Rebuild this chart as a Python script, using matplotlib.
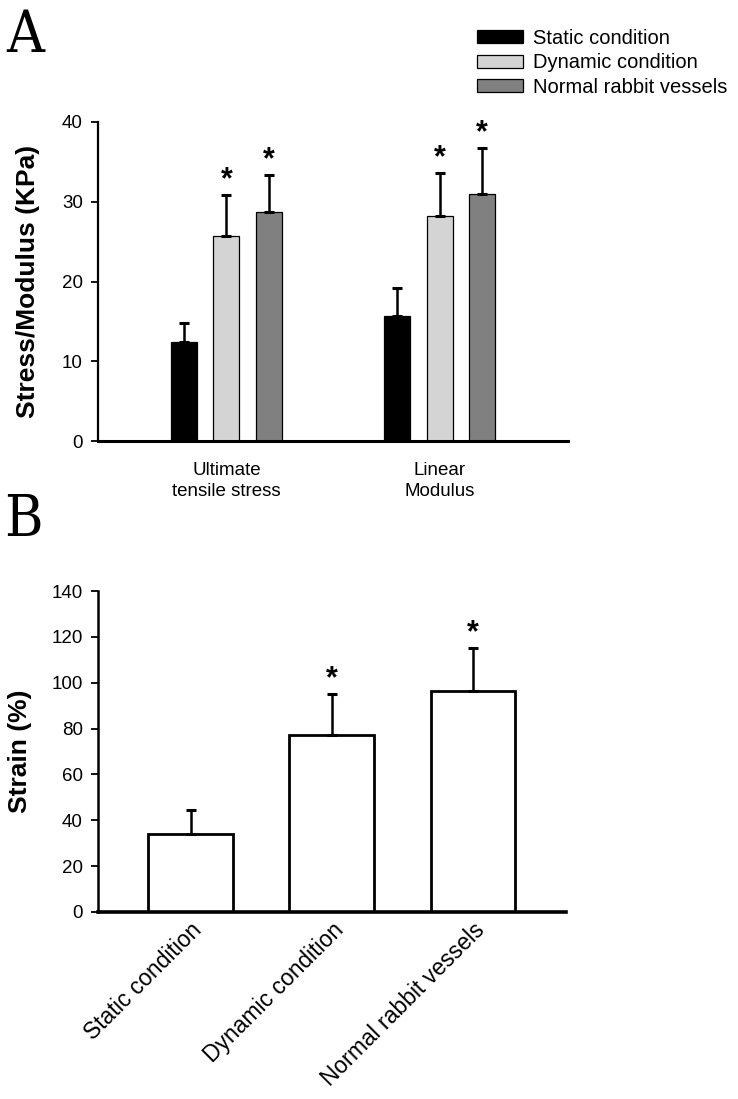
import matplotlib
matplotlib.use("Agg")
import matplotlib.pyplot as plt
import numpy as np
from matplotlib.patches import Patch

# panel A data
groups_a = ["Ultimate\ntensile stress", "Linear\nModulus"]
conditions = ["Static condition", "Dynamic condition", "Normal rabbit vessels"]
static_vals = [12.4, 15.7]
static_err = [2.4, 3.5]
dynamic_vals = [25.7, 28.2]
dynamic_err = [5.1, 5.4]
normal_vals = [28.7, 31.0]
normal_err = [4.6, 5.7]
sig_a = [[False, False], [True, True], [True, True]]

# panel B data
strain_labels = ["Static condition", "Dynamic condition", "Normal rabbit vessels"]
strain_vals = [34.0, 77.2, 96.4]
strain_err = [10.5, 17.9, 18.7]
sig_b = [False, True, True]

colors = ["#000000", "#d4d4d4", "#808080"]
tick_font = ["Liberation Sans Narrow", "Liberation Sans", "DejaVu Sans"]
plt.rcParams["font.family"] = ["Liberation Sans", "DejaVu Sans"]

fig = plt.figure(figsize=(7.38, 10.99), dpi=100)

# ---------- panel A ----------
ax = fig.add_axes([0.1328, 0.5987, 0.6369, 0.2903])
x = np.arange(len(groups_a))
offs = [-0.2, 0.0, 0.2]
w = 0.122
series = [(static_vals, static_err), (dynamic_vals, dynamic_err), (normal_vals, normal_err)]
for i, (vals, errs) in enumerate(series):
    ax.bar(x + offs[i], vals, w, color=colors[i], edgecolor="black", linewidth=0.9, zorder=2)
    ax.errorbar(x + offs[i], vals, yerr=[np.zeros(len(vals)), errs], fmt="none",
                ecolor="black", elinewidth=1.8, capsize=3.5, capthick=2.2, zorder=3)
    for j in range(len(vals)):
        if sig_a[i][j]:
            ax.annotate("*", (x[j] + offs[i], vals[j] + errs[j]), xytext=(0, 5),
                        textcoords="offset points", ha="center", va="baseline",
                        fontsize=22, fontweight="bold")

ax.set_xlim(-0.603, 1.603)
ax.set_ylim(0, 40)
ax.set_yticks([0, 10, 20, 30, 40])
ax.set_xticks(x)
ax.set_xticklabels(groups_a, fontsize=13.5, linespacing=1.35)
ax.tick_params(axis="x", length=0, pad=15)
ax.tick_params(axis="y", length=5, width=1.3, labelsize=13.5, pad=6)
for lab in ax.get_yticklabels():
    lab.set_family(tick_font)
ax.spines["top"].set_visible(False)
ax.spines["right"].set_visible(False)
ax.spines["left"].set_linewidth(1.6)
ax.spines["bottom"].set_linewidth(2.2)
ax.set_ylabel("Stress/Modulus (KPa)", fontsize=19, fontweight="bold", labelpad=16)

handles = [Patch(facecolor=c, edgecolor="black", linewidth=0.9) for c in colors]
fig.legend(handles, conditions, loc="upper left", bbox_to_anchor=(0.646, 0.974),
           frameon=False, handlelength=2.3, handleheight=0.6,
           handletextpad=0.5, labelspacing=0.28, borderpad=0, borderaxespad=0,
           prop={"family": tick_font, "size": 14.5})

# ---------- panel B ----------
bx = fig.add_axes([0.1328, 0.1702, 0.634, 0.292])
xb = np.arange(len(strain_labels))
bx.bar(xb, strain_vals, 0.60, color="white", edgecolor="black", linewidth=2.0, zorder=2)
bx.errorbar(xb, strain_vals, yerr=[np.zeros(len(strain_vals)), strain_err], fmt="none",
            ecolor="black", elinewidth=1.8, capsize=3.5, capthick=2.2, zorder=3)
for j in range(len(strain_vals)):
    if sig_b[j]:
        bx.annotate("*", (xb[j], strain_vals[j] + strain_err[j]), xytext=(0, 5),
                    textcoords="offset points", ha="center", va="baseline",
                    fontsize=22, fontweight="bold")

bx.set_xlim(-0.655, 2.658)
bx.set_ylim(0, 140)
bx.set_yticks(np.arange(0, 141, 20))
bx.set_xticks(xb)
bx.set_xticklabels(strain_labels, rotation=45, ha="right", rotation_mode="anchor", fontsize=16.5)
bx.tick_params(axis="x", length=0, pad=5)
bx.tick_params(axis="y", length=5, width=1.3, labelsize=13.5, pad=6)
for lab in bx.get_yticklabels():
    lab.set_family(tick_font)
bx.spines["top"].set_visible(False)
bx.spines["right"].set_visible(False)
bx.spines["left"].set_linewidth(1.8)
bx.spines["bottom"].set_linewidth(2.6)
bx.set_ylabel("Strain (%)", fontsize=19, fontweight="bold", labelpad=14)

# panel letters
fig.text(0.008, 0.993, "A", fontsize=42, va="top", ha="left",
         family=["DejaVu Serif", "Liberation Serif"], fontstretch="condensed")
fig.text(0.006, 0.552, "B", fontsize=42, va="top", ha="left",
         family=["DejaVu Serif", "Liberation Serif"], fontstretch="condensed")

fig.savefig("out.png", dpi=100)
